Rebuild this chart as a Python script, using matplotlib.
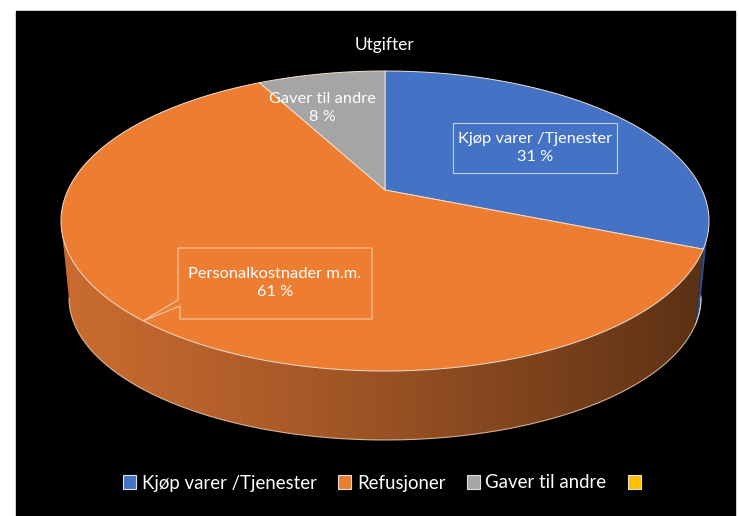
import matplotlib.pyplot as plt
import matplotlib.colors as mcolors
import numpy as np
from matplotlib.patches import Polygon, Rectangle, Patch

plt.rcParams['font.family'] = ['Lato', 'DejaVu Sans']

# data
kategorier = ['Kjøp varer /Tjenester', 'Refusjoner', 'Gaver til andre', '']
andeler = [31, 61, 8, 0]
etiketter = ['Kjøp varer /Tjenester', 'Personalkostnader m.m.', 'Gaver til andre', '']
farger = ['#4472c4', '#ed7d31', '#a5a5a5', '#ffc000']
sidefarger = [['#33589c', '#2a4a85'], ['#c96b30', '#5a3014'], ['#7f7f7f', '#5f5f5f'], ['#c09000', '#a07800']]

# geometri for 3d-kaken (piksler): toppellipse og bunnellipse (perspektiv)
cx, ecy, a, b = 385, 221, 324, 150
bcy, ab, bb = 298, 316, 142
apex_y = 190
k = 0.47

def kantpunkt(theta):
    # stråle fra sentrum i retning theta (med klokka fra kl 12), skjæring med ellipsen
    dx, dy = np.sin(theta), -np.cos(theta) * k
    ox, oy = 0.0, apex_y - ecy
    A = (dx / a) ** 2 + (dy / b) ** 2
    B = 2 * (ox * dx / a ** 2 + oy * dy / b ** 2)
    C = (ox / a) ** 2 + (oy / b) ** 2 - 1
    s = (-B + np.sqrt(B * B - 4 * A * C)) / (2 * A)
    return cx + ox + s * dx, ecy + oy + s * dy

fig = plt.figure(figsize=(7.39, 5.16), dpi=100)
fig.patch.set_facecolor('white')
ax = fig.add_axes([0, 0, 1, 1])
ax.set_xlim(0, 739)
ax.set_ylim(516, 0)
ax.axis('off')
ax.add_patch(Rectangle((16, 11), 719, 510, color='black', zorder=0))

total = sum(andeler)
grenser = np.cumsum([0] + andeler) / total * 2 * np.pi

# sider (bare fremre halvdel), fargeovergang via imshow klippet til sideflaten
for i in range(len(andeler)):
    if andeler[i] == 0:
        continue
    th = np.linspace(grenser[i], grenser[i + 1], 400)
    px, py = kantpunkt(th)
    t = np.arctan2((py - ecy) / b, (px - cx) / a)
    synlig = t >= -0.02
    synlig &= t <= np.pi + 0.02
    if synlig.sum() < 2:
        continue
    px, py, t = px[synlig], py[synlig], t[synlig]
    qx = cx + ab * np.cos(t)
    qy = bcy + bb * np.sin(t)
    poly = list(zip(px, py)) + list(zip(qx[::-1], qy[::-1]))
    side = Polygon(poly, closed=True, facecolor='none', edgecolor='none')
    ax.add_patch(side)
    c0 = np.array(mcolors.to_rgb(sidefarger[i][0]))
    c1 = np.array(mcolors.to_rgb(sidefarger[i][1]))
    f = np.linspace(0, 1, 256) ** 1.2
    grad = np.array([[c0 * (1 - v) + c1 * v for v in f]])
    im = ax.imshow(grad, extent=(cx - a, cx + a, bcy + bb + 5, ecy - 5),
                   aspect='auto', zorder=1, interpolation='bilinear')
    im.set_clip_path(side)
    if i == 0:
        ax.plot(qx, qy, color='#c8d4f0', lw=0.6, zorder=2)

# nedre kantlinje
tt = np.linspace(0, np.pi, 200)
ax.plot(cx + ab * np.cos(tt), bcy + bb * np.sin(tt), color='#e8c8a8', lw=0.8, alpha=0.85, zorder=2)

# toppflate
for i in range(len(andeler)):
    if andeler[i] == 0:
        continue
    th = np.linspace(grenser[i], grenser[i + 1], 200)
    px, py = kantpunkt(th)
    pts = [(cx, apex_y)] + list(zip(px, py))
    ax.add_patch(Polygon(pts, closed=True, facecolor=farger[i], edgecolor='#f2e0d0', lw=0.7, zorder=3))

ax.set_xlim(0, 739)
ax.set_ylim(516, 0)

# etiketter
ax.add_patch(Rectangle((453, 123), 164, 50, fill=False, edgecolor='#c8d0e8', lw=0.8, zorder=4))
ax.text(535, 148, f'{etiketter[0]}\n{andeler[0]} %', color='white', fontsize=11.8,
        ha='center', va='center', linespacing=1.45, zorder=5)

boks = [(178, 248), (372, 248), (372, 319), (180, 319), (180, 306), (143, 321), (178, 300)]
ax.add_patch(Polygon(boks, closed=True, fill=False, edgecolor='#f0c8a8', lw=0.8, zorder=4))
ax.text(275, 283, f'{etiketter[1]}\n{andeler[1]} %', color='white', fontsize=11.8,
        ha='center', va='center', linespacing=1.45, zorder=5)

ax.text(322, 108, f'{etiketter[2]}\n{andeler[2]} %', color='white', fontsize=11.8,
        ha='center', va='center', linespacing=1.45, zorder=5)

ax.text(385, 45, 'Utgifter', color='white', fontsize=12.5, ha='center', va='center')

handles = [Patch(facecolor=c, edgecolor='#e0e0e0', lw=0.8) for c in farger]
ax.legend(handles, kategorier, loc='center', bbox_to_anchor=(385 / 739, 1 - 483 / 516),
          ncol=4, frameon=False, fontsize=13.4, labelcolor='white', handlelength=0.7,
          handleheight=0.7, handletextpad=0.3, columnspacing=1.15)

fig.savefig('out.png', dpi=100, facecolor='white')
